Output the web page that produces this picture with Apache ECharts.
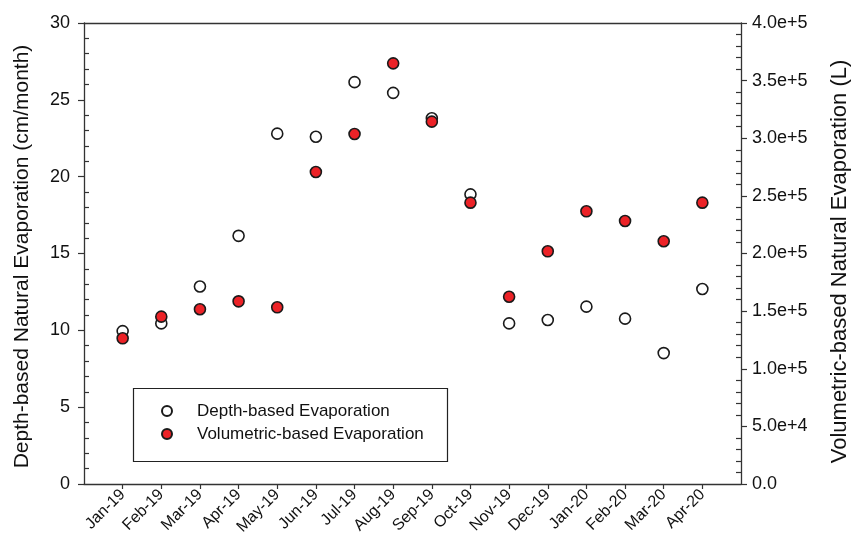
<!DOCTYPE html>
<html>
<head>
<meta charset="utf-8">
<script src="https://cdn.jsdelivr.net/npm/echarts@6/dist/echarts.min.js"></script>
<style>html,body{margin:0;padding:0;background:#fff}#c{width:853px;height:543px}</style>
</head>
<body>
<div id="c"></div>
<script>
const months = ['Jan-19','Feb-19','Mar-19','Apr-19','May-19','Jun-19','Jul-19','Aug-19','Sep-19','Oct-19','Nov-19','Dec-19','Jan-20','Feb-20','Mar-20','Apr-20'];
const depthEvap = [9.95, 10.45, 12.85, 16.15, 22.8, 22.6, 26.15, 25.45, 23.8, 18.85, 10.45, 10.67, 11.54, 10.76, 8.52, 12.69];
const volEvap = [126400, 145200, 151600, 158500, 153300, 270700, 303700, 365000, 314400, 244100, 162500, 201900, 236600, 228200, 210600, 244100];
const seriesNames = ['Depth-based Evaporation', 'Volumetric-based Evaporation'];
const leftTitle = 'Depth-based Natural Evaporation (cm/month)';
const rightTitle = 'Volumetric-based Natural Evaporation (L)';

const FONT = 'Liberation Sans, Arial, sans-serif';
const AX = '#333';
const chart = echarts.init(document.getElementById('c'), null, {renderer: 'canvas'});
const monthIdx = months.map((m, i) => i);

const baseY = {
  type: 'value',
  axisLine: {show: true, onZero: false, lineStyle: {color: AX, width: 1.3}},
  splitLine: {show: false}
};

chart.setOption({
  animation: false,
  backgroundColor: '#fff',
  grid: {left: 84, right: 112, top: 23, bottom: 59, containLabel: false, outerBoundsMode: 'none'},
  xAxis: [{
    type: 'value', min: -1, max: 16, interval: 1,
    axisLine: {show: true, onZero: false, lineStyle: {color: AX, width: 1.3}},
    axisTick: {show: true, length: 5, customValues: monthIdx, lineStyle: {color: AX, width: 1.2}},
    splitLine: {show: false},
    axisLabel: {
      rotate: 45, fontSize: 16, color: '#111', fontFamily: FONT, margin: 8,
      customValues: monthIdx,
      formatter: v => months[v] || ''
    }
  }, {
    type: 'value', min: -1, max: 16, position: 'top',
    axisLine: {show: true, onZero: false, lineStyle: {color: AX, width: 1.3}},
    axisTick: {show: false}, axisLabel: {show: false}, splitLine: {show: false}
  }],
  yAxis: [
    Object.assign({}, baseY, {
      position: 'left', min: 0, max: 30, interval: 5,
      axisTick: {show: true, length: 6, lineStyle: {color: AX, width: 1.2}},
      axisLabel: {fontSize: 18, color: '#111', fontFamily: FONT, margin: 14},
      name: leftTitle, nameLocation: 'middle', nameRotate: 90, nameGap: 51,
      nameTextStyle: {fontSize: 21, color: '#111', fontFamily: FONT, padding: [0, 6, 0, 0]}
    }),
    Object.assign({}, baseY, {
      position: 'left', min: 0, max: 30, interval: 5,
      axisLine: {show: false, onZero: false},
      axisTick: {show: false, inside: true},
      minorTick: {show: true, splitNumber: 5, length: 5, lineStyle: {color: AX, width: 1.2}},
      axisLabel: {show: false}
    }),
    Object.assign({}, baseY, {
      position: 'right', min: 0, max: 400000, interval: 50000,
      axisTick: {show: true, length: 6, lineStyle: {color: AX, width: 1.2}},
      axisLabel: {fontSize: 18, color: '#111', fontFamily: FONT, margin: 11,
        formatter: v => v === 0 ? '0.0' : v.toExponential(1)},
      name: rightTitle, nameLocation: 'middle', nameRotate: 90, nameGap: 88,
      nameTextStyle: {fontSize: 22, color: '#111', fontFamily: FONT, padding: [0, 16, 0, 0]}
    }),
    Object.assign({}, baseY, {
      position: 'right', min: 0, max: 400000, interval: 50000,
      axisLine: {show: false, onZero: false},
      axisTick: {show: false, inside: true},
      minorTick: {show: true, splitNumber: 5, length: 5, lineStyle: {color: AX, width: 1.2}},
      axisLabel: {show: false}
    })
  ],
  legend: {
    orient: 'vertical', left: 161, top: 402,
    itemWidth: 50, itemHeight: 10, itemGap: 5,
    padding: 0,
    textStyle: {fontSize: 17, color: '#111', fontFamily: FONT, lineHeight: 18},
    data: [{name: seriesNames[0], icon: 'circle'}, {name: seriesNames[1], icon: 'circle'}]
  },
  graphic: [{
    type: 'rect', left: 131, top: 386, z: 100, silent: true,
    shape: {width: 314, height: 73},
    style: {fill: 'none', stroke: '#222', lineWidth: 1.2}
  }],
  series: [{
    name: seriesNames[0], type: 'scatter', xAxisIndex: 0, yAxisIndex: 0,
    symbol: 'circle', symbolSize: 11,
    itemStyle: {color: '#fff', borderColor: '#1a1a1a', borderWidth: 1.6, opacity: 1},
    data: months.map((m, i) => [i, depthEvap[i]])
  }, {
    name: seriesNames[1], type: 'scatter', xAxisIndex: 0, yAxisIndex: 2,
    symbol: 'circle', symbolSize: 11,
    itemStyle: {color: '#ec2227', borderColor: '#1a1a1a', borderWidth: 1.6, opacity: 1},
    data: months.map((m, i) => [i, volEvap[i]])
  }]
});
</script>
</body>
</html>
